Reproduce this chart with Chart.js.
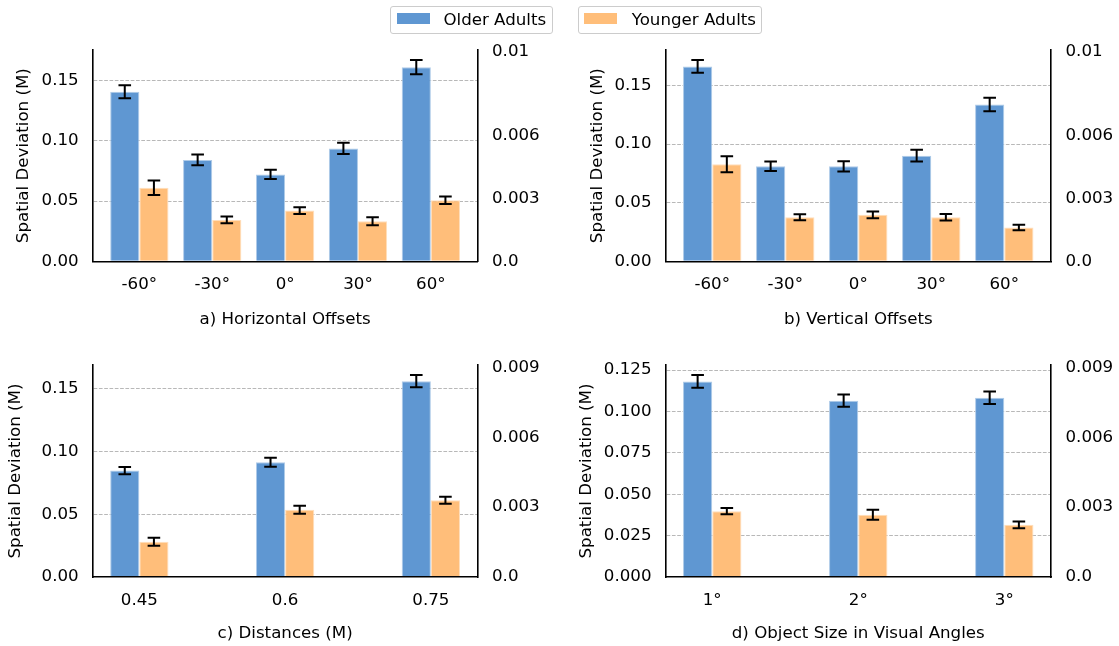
<!DOCTYPE html>
<html>
<head>
<meta charset="utf-8">
<script src="https://cdn.jsdelivr.net/npm/chart.js@4.4.1/dist/chart.umd.min.js"></script>
<style>
  html, body { margin: 0; padding: 0; background: #fff; }
  body { width: 1119px; height: 646px; position: relative; overflow: hidden; font-family: 'DejaVu Sans', sans-serif; }
  canvas { position: absolute; }
  .legend-box { position: absolute; box-sizing: border-box; border: 1px solid #cccccc; border-radius: 3px; background: rgba(255,255,255,0.8); z-index: 2; }
  .legend-patch { position: absolute; z-index: 3; }
  .legend-text { position: absolute; z-index: 3; font-size: 16.67px; line-height: 20px; color: #000; white-space: nowrap; }
</style>
</head>
<body>
<canvas id="panelA" width="560" height="320" style="left:0px;top:20px"></canvas>
<canvas id="panelB" width="559" height="320" style="left:560px;top:20px"></canvas>
<canvas id="panelC" width="560" height="306" style="left:0px;top:340px"></canvas>
<canvas id="panelD" width="559" height="306" style="left:560px;top:340px"></canvas>

<script>
// ---- series ----
const seriesNames = ['Older Adults', 'Younger Adults'];
const yAxisTitle = 'Spatial Deviation (M)';

// a) horizontal offsets
const horizCats = ['-60°', '-30°', '0°', '30°', '60°'];
const horizOlder = [0.1408, 0.0842, 0.0722, 0.0938, 0.1613];
const horizOlderErr = [0.0054, 0.0045, 0.0039, 0.0046, 0.0059];
const horizYounger = [0.0611, 0.0344, 0.0422, 0.0333, 0.0508];
const horizYoungerErr = [0.0061, 0.0028, 0.0028, 0.0033, 0.0031];

// b) vertical offsets
const vertCats = ['-60°', '-30°', '0°', '30°', '60°'];
const vertOlder = [0.1662, 0.0810, 0.0810, 0.0901, 0.1337];
const vertOlderErr = [0.0054, 0.0041, 0.0044, 0.0051, 0.0057];
const vertYounger = [0.0827, 0.0376, 0.0396, 0.0376, 0.0288];
const vertYoungerErr = [0.0068, 0.0026, 0.0028, 0.0028, 0.0024];

// c) distances
const distCats = ['0.45', '0.6', '0.75'];
const distOlder = [0.0847, 0.0914, 0.1559];
const distOlderErr = [0.0029, 0.0036, 0.0048];
const distYounger = [0.0281, 0.0536, 0.0611];
const distYoungerErr = [0.0032, 0.0032, 0.0027];

// d) object size
const sizeCats = ['1°', '2°', '3°'];
const sizeOlder = [0.1182, 0.1065, 0.1083];
const sizeOlderErr = [0.0038, 0.0037, 0.0038];
const sizeYounger = [0.0398, 0.0376, 0.0315];
const sizeYoungerErr = [0.0019, 0.0030, 0.0020];

// ---- tick values and labels ----
const leftTicksWide = [0, 0.05, 0.10, 0.15];
const leftTicksFine = [0, 0.025, 0.05, 0.075, 0.100, 0.125];
const rightTicksTop = [0, 0.003, 0.006, 0.01];
const rightLabelsTop = ['0.0', '0.003', '0.006', '0.01'];
const rightTicksBottom = [0, 0.003, 0.006, 0.009];
const rightLabelsBottom = ['0.0', '0.003', '0.006', '0.009'];

// ---- styling ----
const seriesColors = ['#5F97D2', '#FFBE7A'];
const seriesEdges = ['#AFCBE8', '#FFDEBC'];
const FONT_SIZE = 16.67;

Chart.defaults.font.family = "'DejaVu Sans', sans-serif";
Chart.defaults.font.size = FONT_SIZE;
Chart.defaults.color = '#000';

// legend (two framed entries above the grid of panels)
const legendLayout = [
  { box: [390, 5.7, 162.7, 28.6], patch: [396.7, 13.3, 33.3, 11], text: [443.4, 10] },
  { box: [577.7, 5.7, 184, 28.6], patch: [584, 13.3, 33.3, 11], text: [631.7, 10] }
];
legendLayout.forEach((g, k) => {
  const box = document.createElement('div');
  box.className = 'legend-box';
  Object.assign(box.style, { left: g.box[0] + 'px', top: g.box[1] + 'px', width: g.box[2] + 'px', height: g.box[3] + 'px' });
  document.body.appendChild(box);
  const patch = document.createElement('div');
  patch.className = 'legend-patch';
  Object.assign(patch.style, { left: g.patch[0] + 'px', top: g.patch[1] + 'px', width: g.patch[2] + 'px', height: g.patch[3] + 'px', background: seriesColors[k] });
  document.body.appendChild(patch);
  const txt = document.createElement('span');
  txt.className = 'legend-text';
  txt.textContent = seriesNames[k];
  Object.assign(txt.style, { left: g.text[0] + 'px', top: g.text[1] + 'px' });
  document.body.appendChild(txt);
});

// symmetric error bars with caps, drawn on top of the bars
const errorBars = {
  id: 'errorBars',
  afterDatasetsDraw(chart) {
    const { ctx } = chart;
    const yScale = chart.scales.y;
    const cap = 6.3;
    chart.data.datasets.forEach((ds, di) => {
      const meta = chart.getDatasetMeta(di);
      if (!ds.errors || meta.hidden) return;
      ctx.save();
      ctx.strokeStyle = '#000';
      ctx.lineWidth = 2;
      meta.data.forEach((bar, i) => {
        const v = ds.data[i].y;
        const e = ds.errors[i];
        const top = yScale.getPixelForValue(v + e);
        const bot = yScale.getPixelForValue(v - e);
        ctx.beginPath();
        ctx.moveTo(bar.x, top); ctx.lineTo(bar.x, bot);
        ctx.moveTo(bar.x - cap, top); ctx.lineTo(bar.x + cap, top);
        ctx.moveTo(bar.x - cap, bot); ctx.lineTo(bar.x + cap, bot);
        ctx.stroke();
      });
      ctx.restore();
    });
  }
};

function buildPanel(canvasId, p, L) {
  const n = p.cats.length;
  const half = p.groupWidth / 2;
  const lo = -half, hi = n - 1 + half;
  const margin = 0.05 * (hi - lo);
  const tops = [];
  p.older.forEach((v, i) => tops.push(v + p.olderErr[i]));
  p.younger.forEach((v, i) => tops.push(v + p.youngerErr[i]));
  const yMax = Math.max(...tops) * 1.05;

  const makeSet = (vals, errs, k) => ({
    label: seriesNames[k],
    data: vals.map((v, i) => ({ x: i, y: v })),
    errors: errs,
    backgroundColor: seriesColors[k],
    borderColor: seriesEdges[k],
    borderWidth: 1,
    borderSkipped: 'bottom',
    categoryPercentage: p.groupWidth,
    barPercentage: 1.0
  });

  return new Chart(document.getElementById(canvasId), {
    type: 'bar',
    data: { datasets: [makeSet(p.older, p.olderErr, 0), makeSet(p.younger, p.youngerErr, 1)] },
    options: {
      responsive: false,
      animation: false,
      layout: { padding: { top: L.padTop, left: 0, right: 0, bottom: 0 } },
      plugins: { legend: { display: false }, tooltip: { enabled: false } },
      scales: {
        x: {
          type: 'linear',
          position: 'bottom',
          offset: false,
          min: lo - margin,
          max: hi + margin,
          afterBuildTicks: s => { s.ticks = p.cats.map((c, i) => ({ value: i })); },
          afterFit: s => { s.height = L.xAxisH; },
          ticks: { callback: v => p.cats[v], padding: L.xTickPad, maxRotation: 0, autoSkip: false },
          grid: { display: false, drawTicks: false, offset: false },
          border: { display: true, color: '#000', width: 1.6, z: 1 },
          title: { display: true, text: p.title, padding: { top: 0, bottom: L.xTitlePad } }
        },
        y: {
          position: 'left',
          min: 0,
          max: yMax,
          afterBuildTicks: s => { s.ticks = p.leftTicks.map(v => ({ value: v })); },
          afterFit: s => { s.width = L.leftW; },
          ticks: { callback: v => v.toFixed(p.leftDecimals), padding: 14 },
          grid: {
            drawTicks: false,
            lineWidth: 1,
            color: c => (c.tick && c.tick.value === 0) ? 'rgba(0,0,0,0)' : '#b8b8b8'
          },
          border: { display: true, color: '#000', width: 1.6, dash: [3.7, 1.6], z: 1 },
          title: { display: true, text: yAxisTitle, padding: { top: L.yTitlePad, bottom: 0 } }
        },
        y2: {
          position: 'right',
          min: 0,
          max: p.rightMax,
          afterBuildTicks: s => { s.ticks = p.rightTicks.map(v => ({ value: v })); },
          afterFit: s => { s.width = L.rightW; },
          ticks: { callback: (v, i) => p.rightLabels[i], padding: 14.5 },
          grid: { display: false, drawTicks: false },
          border: { display: true, color: '#000', width: 1.6, z: 1 }
        }
      }
    },
    plugins: [errorBars]
  });
}

buildPanel('panelA', {
  cats: horizCats, older: horizOlder, olderErr: horizOlderErr, younger: horizYounger, youngerErr: horizYoungerErr,
  title: 'a) Horizontal Offsets', groupWidth: 0.8,
  leftTicks: leftTicksWide, leftDecimals: 2,
  rightTicks: rightTicksTop, rightLabels: rightLabelsTop, rightMax: 0.0101
}, { padTop: 30, leftW: 92.7, rightW: 82.5, xAxisH: 78.7, xTickPad: 13.5, xTitlePad: 10, yTitlePad: 14 });

buildPanel('panelB', {
  cats: vertCats, older: vertOlder, olderErr: vertOlderErr, younger: vertYounger, youngerErr: vertYoungerErr,
  title: 'b) Vertical Offsets', groupWidth: 0.8,
  leftTicks: leftTicksWide, leftDecimals: 2,
  rightTicks: rightTicksTop, rightLabels: rightLabelsTop, rightMax: 0.0101
}, { padTop: 30, leftW: 105.5, rightW: 68, xAxisH: 78.7, xTickPad: 13.5, xTitlePad: 10, yTitlePad: 27.5 });

buildPanel('panelC', {
  cats: distCats, older: distOlder, olderErr: distOlderErr, younger: distYounger, youngerErr: distYoungerErr,
  title: 'c) Distances (M)', groupWidth: 0.4,
  leftTicks: leftTicksWide, leftDecimals: 2,
  rightTicks: rightTicksBottom, rightLabels: rightLabelsBottom, rightMax: 0.0091
}, { padTop: 25, leftW: 92.7, rightW: 82.5, xAxisH: 69, xTickPad: 13.5, xTitlePad: 2.7, yTitlePad: 6 });

buildPanel('panelD', {
  cats: sizeCats, older: sizeOlder, olderErr: sizeOlderErr, younger: sizeYounger, youngerErr: sizeYoungerErr,
  title: 'd) Object Size in Visual Angles', groupWidth: 0.4,
  leftTicks: leftTicksFine, leftDecimals: 3,
  rightTicks: rightTicksBottom, rightLabels: rightLabelsBottom, rightMax: 0.0091
}, { padTop: 25, leftW: 105.5, rightW: 68, xAxisH: 69, xTickPad: 13.5, xTitlePad: 2.7, yTitlePad: 17 });
</script>
</body>
</html>
